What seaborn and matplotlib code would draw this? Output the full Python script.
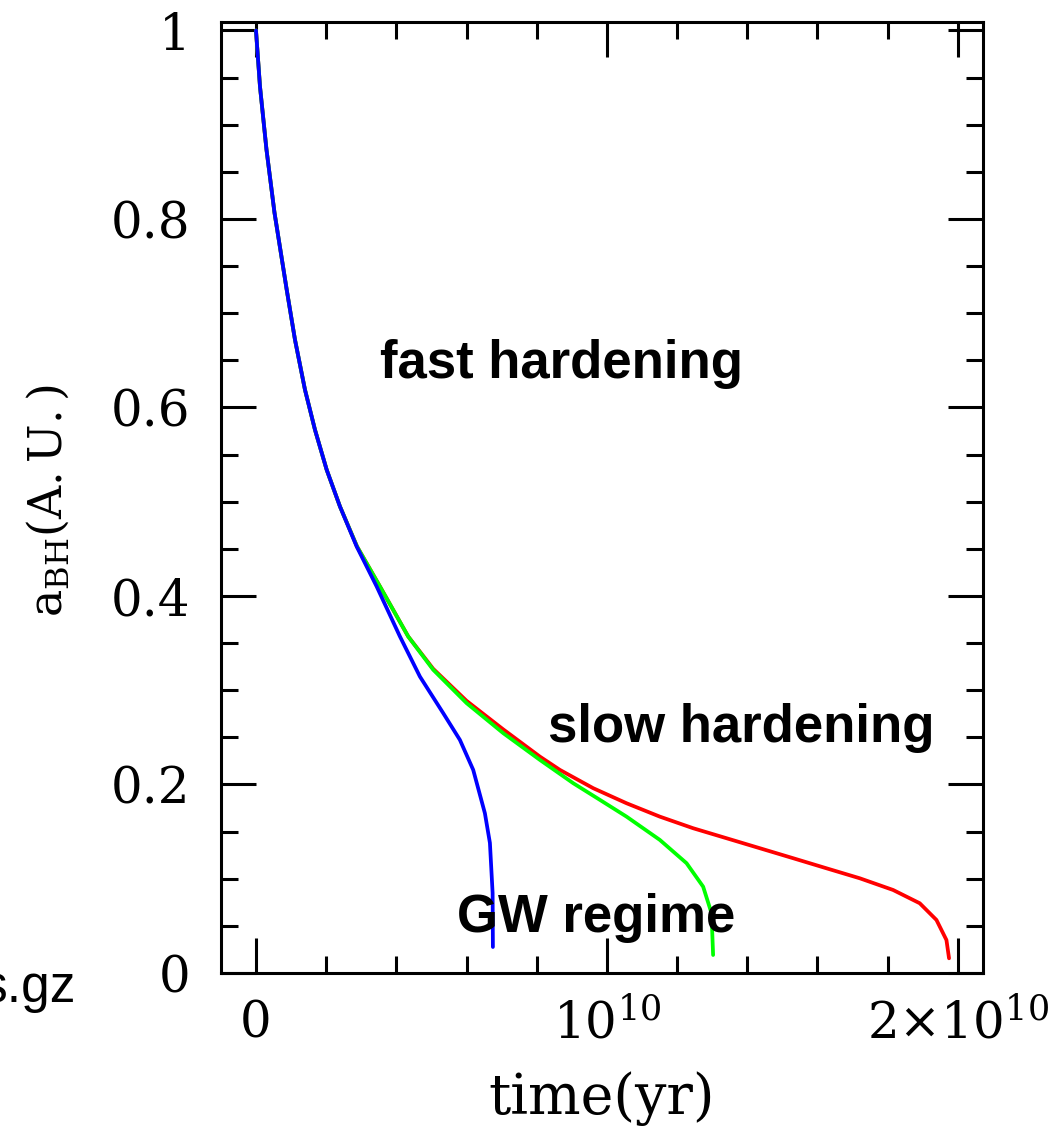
import numpy as np
import pandas as pd
import matplotlib
matplotlib.use("Agg")
import matplotlib.pyplot as plt
from matplotlib.ticker import MultipleLocator, FixedLocator
import seaborn as sns

# Binary black hole separation vs time for three hardening histories
# (time in units of 1e10 yr, separation in A.U.)
t_blue = [0.0, 0.0114, 0.0299, 0.0527, 0.0875, 0.1111, 0.1396, 0.1681,
          0.2014, 0.2393, 0.2869, 0.3439, 0.4103, 0.4672, 0.5336, 0.5812, 0.6191,
          0.6524, 0.6667, 0.6744, 0.6752]
a_blue = [1.0, 0.9406, 0.8737, 0.8068, 0.7251, 0.6720, 0.6189, 0.5764,
          0.5340, 0.4950, 0.4525, 0.4101, 0.3570, 0.3145, 0.2757, 0.2473, 0.2155,
          0.1695, 0.1380, 0.0849, 0.0276]

t_green = [0.0, 0.0114, 0.0299, 0.0527, 0.0875, 0.1111, 0.1396, 0.1681,
           0.2014, 0.2393, 0.2880, 0.3533, 0.4339, 0.5051, 0.6003, 0.7046, 0.8091,
           0.9040, 0.9801, 1.0561, 1.1510, 1.2271, 1.2744, 1.2983, 1.3028]
a_green = [1.0, 0.9406, 0.8737, 0.8068, 0.7251, 0.6720, 0.6189, 0.5764,
           0.5340, 0.4950, 0.4525, 0.4101, 0.3570, 0.3217, 0.2863, 0.2545, 0.2261,
           0.2014, 0.1837, 0.1659, 0.1412, 0.1165, 0.0916, 0.0634, 0.0191]

t_red = [0.0, 0.0114, 0.0299, 0.0527, 0.0875, 0.1111, 0.1396, 0.1681,
         0.2014, 0.2393, 0.2880, 0.3533, 0.4339, 0.5051, 0.6003, 0.7046, 0.8091,
         0.8661, 0.9610, 1.0561, 1.1510, 1.2459, 1.3410, 1.4359, 1.5308, 1.6259,
         1.7208, 1.8157, 1.8917, 1.9393, 1.9678, 1.9752]
a_red = [1.0, 0.9406, 0.8737, 0.8068, 0.7251, 0.6720, 0.6189, 0.5764,
         0.5340, 0.4950, 0.4525, 0.4101, 0.3570, 0.3227, 0.2887, 0.2585, 0.2296,
         0.2155, 0.1961, 0.1801, 0.1659, 0.1536, 0.1430, 0.1324, 0.1218, 0.1111,
         0.1005, 0.0881, 0.0740, 0.0563, 0.0350, 0.0156]

x_ticks = [0.0, 1.0, 2.0]
x_tick_labels = ["0", r"$10^{10}$", r"$2{\times}10^{10}$"]
y_ticks = [0.0, 0.2, 0.4, 0.6, 0.8, 1.0]
y_tick_labels = ["0", "0.2", "0.4", "0.6", "0.8", "1"]

sns.set_style("ticks")
plt.rcParams["font.family"] = ["DejaVu Serif"]
plt.rcParams["mathtext.fontset"] = "dejavuserif"
plt.rcParams["text.color"] = "black"
plt.rcParams["axes.labelcolor"] = "black"
plt.rcParams["xtick.color"] = "black"
plt.rcParams["ytick.color"] = "black"

fig = plt.figure(figsize=(10.58, 11.27), dpi=100)
ax = fig.add_axes([221 / 1058, 1 - 973 / 1127, 762 / 1058, 951 / 1127])

curves = [
    (t_red, a_red, "#ff0000"),
    (t_green, a_green, "#00ff00"),
    (t_blue, a_blue, "#0000ff"),
]
for t, a, col in curves:
    df = pd.DataFrame({"time": t, "a": a})
    sns.lineplot(data=df, x="time", y="a", sort=False, estimator=None,
                 color=col, linewidth=2.7, ax=ax)

ax.set_xlim(-0.0997, 2.072)
ax.set_ylim(0.0, 1.009)

ax.xaxis.set_major_locator(FixedLocator(x_ticks))
ax.set_xticklabels(x_tick_labels)
ax.xaxis.set_minor_locator(MultipleLocator(0.2))
ax.yaxis.set_major_locator(FixedLocator(y_ticks))
ax.set_yticklabels(y_tick_labels)
ax.yaxis.set_minor_locator(MultipleLocator(0.05))

ax.tick_params(which="both", direction="in", top=True, right=True,
               width=2.2, color="black", labelcolor="black", labelsize=36)
ax.tick_params(which="major", length=25)
ax.tick_params(which="minor", length=12.5)
ax.tick_params(axis="y", pad=22)
ax.tick_params(axis="x", pad=19)
for s in ax.spines.values():
    s.set_linewidth(2.2)
    s.set_color("black")

ax.set_xlabel("time(yr)", fontsize=40, color="black")
ax.set_ylabel(r"$\mathrm{a_{BH}(A.U.)}$", fontsize=33, color="black")
ax.xaxis.set_label_coords(0.5, -0.103)
ax.yaxis.set_label_coords(-0.196, 0.497)

bold = dict(family=["Liberation Sans", "DejaVu Sans"], fontweight="bold",
            fontsize=38, color="black", ha="left", va="baseline")
ax.text(0.353, 0.6316, "fast hardening", **bold)
ax.text(0.832, 0.2455, "slow hardening", **bold)
ax.text(0.573, 0.0438, "GW regime", **bold)

fig.text(76 / 1058, 1 - 1002 / 1127, "s.gz", ha="right", va="baseline",
         family=["Liberation Sans", "DejaVu Sans"], fontsize=37, color="black")

fig.savefig("out.png", dpi=100, facecolor="white")
